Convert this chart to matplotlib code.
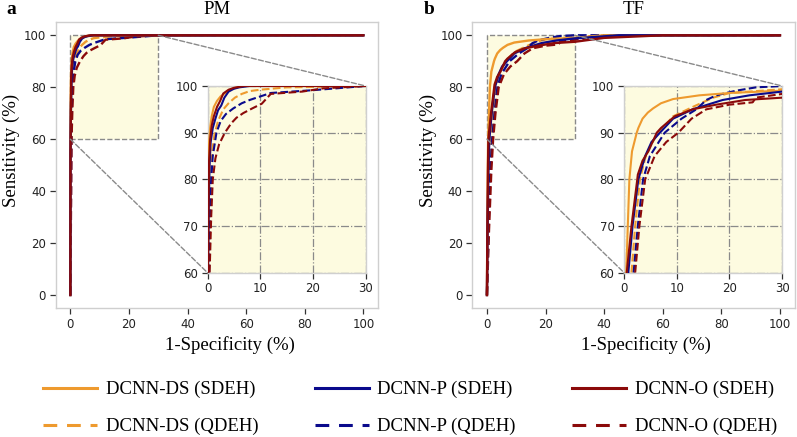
import matplotlib.pyplot as plt
from matplotlib.lines import Line2D
from matplotlib.patches import Rectangle, ConnectionPatch

# --- данные (FPR, TPR в %) ---
# PM
pm_ds_s_x = [0, 0, 0.1, 0.2, 0.3, 0.5, 0.8, 1.2, 1.8, 2.5, 3.5, 4.5, 5.5, 7, 100]
pm_ds_s_y = [0, 50, 75, 84, 88, 91, 93.5, 95.5, 96.8, 97.8, 98.6, 99.3, 99.7, 100, 100]
pm_p_s_x = [0, 0.05, 0.2, 0.4, 0.6, 1.0, 1.5, 2.0, 2.6, 3.2, 4, 5, 6, 8, 100]
pm_p_s_y = [0, 55, 72, 83, 88, 91, 93, 94.8, 95.8, 97.5, 98.8, 99.4, 99.7, 100, 100]
pm_o_s_x = [0, 0.05, 0.2, 0.3, 0.5, 0.8, 1.2, 1.8, 2.4, 3.0, 4, 5, 7, 100]
pm_o_s_y = [0, 55, 74, 84, 88.5, 91.5, 93.5, 95.5, 96.8, 98.4, 99.2, 99.6, 100, 100]
pm_ds_q_x = [0, 0.2, 0.4, 0.6, 0.9, 1.3, 2.0, 3.0, 4.0, 5.2, 6.5, 8, 10, 15, 30, 100]
pm_ds_q_y = [0, 60, 72, 80, 86, 89.5, 92.5, 95, 96.3, 97.5, 98.3, 98.9, 99.2, 99.7, 100, 100]
pm_p_q_x = [0, 0.3, 0.6, 1.0, 1.7, 2.5, 3.5, 4.9, 6.5, 8, 9.6, 12, 20, 30, 100]
pm_p_q_y = [0, 60, 78, 85, 90, 92.5, 94, 95.2, 96.3, 97, 97.6, 98.5, 99.1, 100, 100]
pm_o_q_x = [0, 0.4, 0.7, 1.0, 1.5, 2.2, 3.3, 4.5, 5.5, 6.8, 8.5, 10.3, 12, 18, 22, 30, 100]
pm_o_q_y = [0, 60, 72, 80, 84.5, 87.5, 90, 92, 93.2, 94.2, 95.2, 96.2, 98.3, 98.8, 99.5, 100, 100]

# TF
tf_ds_s_x = [0, 0.1, 0.25, 0.4, 0.7, 1.0, 1.5, 2.4, 2.7, 3.5, 4.5, 5.5, 7, 9.3, 14.3, 20, 30, 40, 100]
tf_ds_s_y = [0, 20, 45, 60, 70, 80, 86, 90, 91, 93, 94.3, 95.2, 96.3, 97.2, 98, 98.5, 99, 100, 100]
tf_p_s_x = [0, 0.2, 0.5, 0.8, 1.6, 2.7, 4.0, 5.2, 6.8, 9.3, 13, 18.7, 23.8, 30, 45, 100]
tf_p_s_y = [0, 25, 48, 60, 70, 80, 85, 88, 90, 93, 95, 97, 98, 98.8, 100, 100]
tf_o_s_x = [0, 0.15, 0.35, 0.5, 1.4, 2.5, 2.6, 3.5, 4.6, 6.2, 7.0, 9.6, 13, 17.5, 23, 30, 40, 60, 100]
tf_o_s_y = [0, 25, 48, 60, 70, 80, 81, 84, 86, 90, 91, 93.5, 95, 96, 97, 97.5, 99, 100, 100]
tf_ds_q_x = [0, 0.4, 0.9, 1.4, 2.1, 3.0, 4.0, 4.9, 6.5, 9.3, 13, 16.9, 20, 30, 40, 100]
tf_ds_q_y = [0, 25, 48, 60, 70, 80, 84.5, 87, 90, 93.5, 95.5, 97.5, 98.5, 99.3, 100, 100]
tf_p_q_x = [0, 0.5, 1.2, 1.8, 2.6, 3.6, 4.9, 7.7, 10.9, 13.7, 15.6, 17.5, 21.3, 25, 30, 100]
tf_p_q_y = [0, 25, 48, 60, 70, 80, 85, 90, 93, 95, 97, 98, 99, 99.7, 100, 100]
tf_o_q_x = [0, 0.7, 1.5, 2.1, 2.9, 4.0, 5.8, 8.0, 10.3, 12.8, 15.6, 20, 24.4, 25, 30, 45, 100]
tf_o_q_y = [0, 25, 48, 60, 70, 80, 85, 88, 90, 93, 95, 96, 96.5, 97.5, 98.3, 100, 100]

labels = ['DCNN-DS (SDEH)', 'DCNN-P (SDEH)', 'DCNN-O (SDEH)',
          'DCNN-DS (QDEH)', 'DCNN-P (QDEH)', 'DCNN-O (QDEH)']
colors = ['#ee9a2e', '#0a0a8c', '#8b0a0a']

panels = [
    ('a', 'PM', [(pm_ds_q_x, pm_ds_q_y), (pm_p_q_x, pm_p_q_y), (pm_o_q_x, pm_o_q_y),
                 (pm_ds_s_x, pm_ds_s_y), (pm_p_s_x, pm_p_s_y), (pm_o_s_x, pm_o_s_y)]),
    ('b', 'TF', [(tf_ds_q_x, tf_ds_q_y), (tf_p_q_x, tf_p_q_y), (tf_o_q_x, tf_o_q_y),
                 (tf_ds_s_x, tf_ds_s_y), (tf_p_s_x, tf_p_s_y), (tf_o_s_x, tf_o_s_y)]),
]

serif = 'Liberation Serif'
yellow = '#fdfbe0'
spine_c = '#cfcfcf'

fig = plt.figure(figsize=(7.97, 4.37), dpi=100)
W, H = 797, 437
lefts = [55.7, 472.3]

for (letter, title, curves), left in zip(panels, lefts):
    ax = fig.add_axes([left / W, 1 - 308 / H, 322.3 / W, 285.7 / H])
    axins = ax.inset_axes([0.471, 0.1236, 0.4905, 0.6535])

    for i, (x, y) in enumerate(curves):
        c = colors[i % 3]
        ls = '--' if i < 3 else '-'
        ax.plot(x, y, color=c, ls=ls, lw=1.7, zorder=3)
        axins.plot(x, y, color=c, ls=ls, lw=1.5, zorder=3)

    ax.set_xlim(-5, 105)
    ax.set_ylim(-5, 105)
    ax.set_xticks([0, 20, 40, 60, 80, 100])
    ax.set_yticks([0, 20, 40, 60, 80, 100])

    axins.set_xlim(0, 30)
    axins.set_ylim(60, 100)
    axins.set_xticks([0, 10, 20, 30])
    axins.set_yticks([60, 70, 80, 90, 100])
    axins.set_facecolor(yellow)
    axins.grid(True, ls='-.', color='#8a8a8a', lw=0.9)
    axins.set_axisbelow(True)

    for a in (ax, axins):
        for s in a.spines.values():
            s.set_color(spine_c)
            s.set_linewidth(1.0)
        a.tick_params(direction='out', length=4, width=0.9, color='#333333',
                      labelsize=8.5, labelcolor='#222222', pad=3)

    # рамка зума и соединительные линии
    ax.add_patch(Rectangle((0, 60), 30, 40, facecolor=yellow, edgecolor='#8a8a8a',
                           ls='--', lw=1.0, zorder=1))
    for pt in [(30, 100), (0, 60)]:
        fig.add_artist(ConnectionPatch(xyA=pt, coordsA=ax.transData, xyB=pt,
                                       coordsB=axins.transData, ls='--',
                                       color='#8a8a8a', lw=1.0))

    fig.text((left + 161) / W, 1 - 10 / H, title, family=serif, fontsize=13.5,
             ha='center', va='center')
    fig.text((left - 49) / W, 1 - 9 / H, letter, family=serif, fontsize=14,
             weight='bold', ha='left', va='center')
    fig.text((left - 44) / W, 1 - 150 / H, 'Sensitivity (%)', family=serif,
             fontsize=13.5, rotation=90, ha='center', va='center')
    fig.text((left + 174) / W, 1 - 345 / H, '1-Specificity (%)', family=serif,
             fontsize=13.5, ha='center', va='center')

handles = []
for i in range(6):
    c = colors[i % 3]
    if i < 3:
        handles.append(Line2D([], [], color=c, lw=2.2))
    else:
        handles.append(Line2D([], [], color=c, lw=2.2, dashes=(4.5, 3.2)))

# порядок по колонкам: DS, P, O
order = [0, 3, 1, 4, 2, 5]
fig.legend([handles[k] for k in order], [labels[k] for k in order],
           ncol=3, loc='center', bbox_to_anchor=(410 / W, 1 - 408 / H),
           frameon=False, prop={'family': serif, 'size': 13.5},
           handlelength=2.9, handletextpad=0.45, columnspacing=3.0,
           labelspacing=1.05)

plt.savefig('out.png', dpi=100)
